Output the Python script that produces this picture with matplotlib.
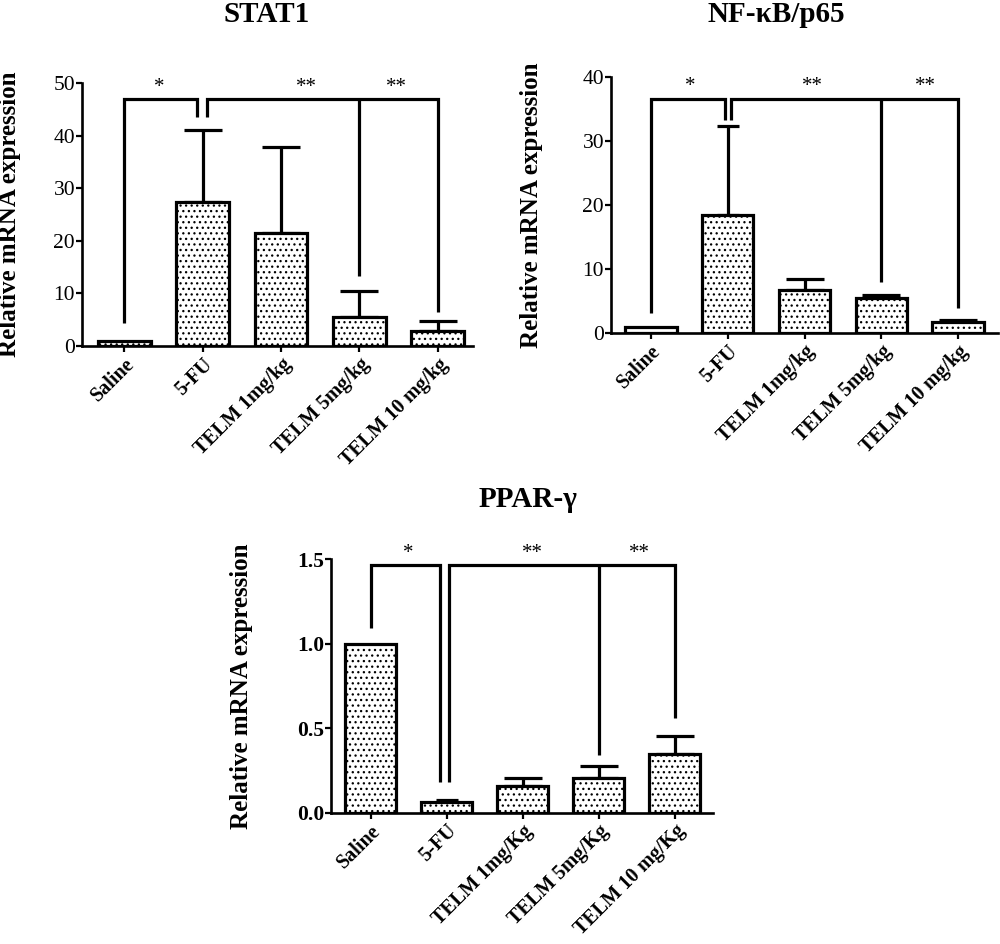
import matplotlib
matplotlib.use("Agg")
import matplotlib.pyplot as plt
import numpy as np

plt.rcParams['font.family'] = ['Liberation Serif', 'DejaVu Serif']
plt.rcParams['hatch.color'] = 'black'
plt.rcParams['hatch.linewidth'] = 0.9

# ---------------- data ----------------
categories_top = ["Saline", "5-FU", "TELM 1mg/kg", "TELM 5mg/kg", "TELM 10 mg/kg"]
categories_ppar = ["Saline", "5-FU", "TELM 1mg/Kg", "TELM 5mg/Kg", "TELM 10 mg/Kg"]

stat1_mean = [1.0, 27.3, 21.5, 5.5, 2.9]
stat1_err = [0.0, 13.8, 16.4, 5.0, 1.8]

nfkb_mean = [1.0, 18.4, 6.75, 5.45, 1.8]
nfkb_err = [0.0, 13.9, 1.65, 0.5, 0.35]

ppar_mean = [1.0, 0.062, 0.158, 0.204, 0.346]
ppar_err = [0.0, 0.012, 0.045, 0.075, 0.11]

# significance brackets: line height and leg bottoms
stat1_sig = dict(top=47.0, saline=4.3, fu=43.6, telm5=13.4, telm10=6.5, star=47.4)
nfkb_sig = dict(top=36.6, saline=3.1, fu=33.2, telm5=8.0, telm10=3.9, star=37.0)
ppar_sig = dict(top=1.467, saline=1.092, fu=0.184, telm5=0.342, telm10=0.559, star=1.48)
sig_labels = ["*", "**", "**"]

LW = 2.3


def panel(rect, cats, mean, err, ylim, yticks, yticklabels, tickbold, sig,
          xlim, fu_legs, star_x, ylabel_x, title, title_xy, caps):
    ax = fig.add_axes(rect)
    x = np.arange(len(cats))
    ax.bar(x, mean, width=0.67, color='white', edgecolor='black',
           linewidth=LW, hatch='...', zorder=2)
    for xi, m, e, c in zip(x, mean, err, caps):
        if e > 0:
            ax.errorbar([xi], [m], yerr=[[0], [e]], fmt='none', ecolor='black',
                        elinewidth=LW, capsize=c, capthick=LW, zorder=1)
    ax.set_xlim(*xlim)
    ax.set_ylim(*ylim)
    ax.set_yticks(yticks)
    ax.set_yticklabels(yticklabels, fontsize=15.5,
                       fontweight='bold' if tickbold else 'normal')
    ax.set_xticks(x)
    ax.set_xticklabels(cats, rotation=45, ha='right', rotation_mode='anchor',
                       fontsize=14.5, fontweight='bold')
    for s in ['top', 'right']:
        ax.spines[s].set_visible(False)
    for s in ['left', 'bottom']:
        ax.spines[s].set_linewidth(1.9)
    ax.tick_params(axis='both', direction='out', length=4, width=1.6, pad=2)
    ax.tick_params(axis='y', pad=1)
    ax.set_ylabel("Relative mRNA expression", fontsize=18, fontweight='bold')
    ax.yaxis.set_label_coords(ylabel_x, 0.5)

    top = sig['top']
    kw = dict(color='black', lw=LW, clip_on=False, solid_joinstyle='miter',
              solid_capstyle='butt', zorder=3)
    ax.plot([x[0], x[0], fu_legs[0], fu_legs[0]],
            [sig['saline'], top, top, sig['fu']], **kw)
    ax.plot([fu_legs[1], fu_legs[1], x[4], x[4]],
            [sig['fu'], top, top, sig['telm10']], **kw)
    ax.plot([x[3], x[3]], [top, sig['telm5']], **kw)
    for sx, lab in zip(star_x, sig_labels):
        ax.text(sx, sig['star'], lab, ha='center', va='bottom', fontsize=15)

    fig.text(title_xy[0], title_xy[1], title, ha='center', va='baseline',
             fontsize=21, fontweight='bold')
    return ax


fig = plt.figure(figsize=(10, 9.44), dpi=100)
H = 944.0

panel([0.082, 1 - 346 / H, 0.391, (346 - 83) / H], categories_top, stat1_mean,
      stat1_err, (0, 50), [0, 10, 20, 30, 40, 50],
      ["0", "10", "20", "30", "40", "50"], False, stat1_sig,
      (-0.54, 4.45), (0.93, 1.06), [0.45, 2.33, 3.47], -0.156,
      "STAT1", (0.267, 1 - 22 / H), [14, 14, 14, 14, 14])

panel([0.611, 1 - 333.3 / H, 0.387, (333.3 - 76.7) / H], categories_top, nfkb_mean,
      nfkb_err, (0, 40), [0, 10, 20, 30, 40],
      ["0", "10", "20", "30", "40"], False, nfkb_sig,
      (-0.52, 4.52), (0.96, 1.045), [0.51, 2.11, 3.58], -0.176,
      "NF-κB/p65", (0.7767, 1 - 22 / H), [14, 8, 14, 14, 14])

panel([0.331, 1 - 812.7 / H, 0.382, (812.7 - 559.3) / H], categories_ppar, ppar_mean,
      ppar_err, (0, 1.5), [0, 0.5, 1.0, 1.5],
      ["0.0", "0.5", "1.0", "1.5"], True, ppar_sig,
      (-0.52, 4.5), (0.915, 1.03), [0.49, 2.13, 3.53], -0.204,
      "PPAR-γ", (0.5283, 1 - 506.7 / H), [14, 8, 14, 14, 14])

fig.savefig("out.png", dpi=100)
